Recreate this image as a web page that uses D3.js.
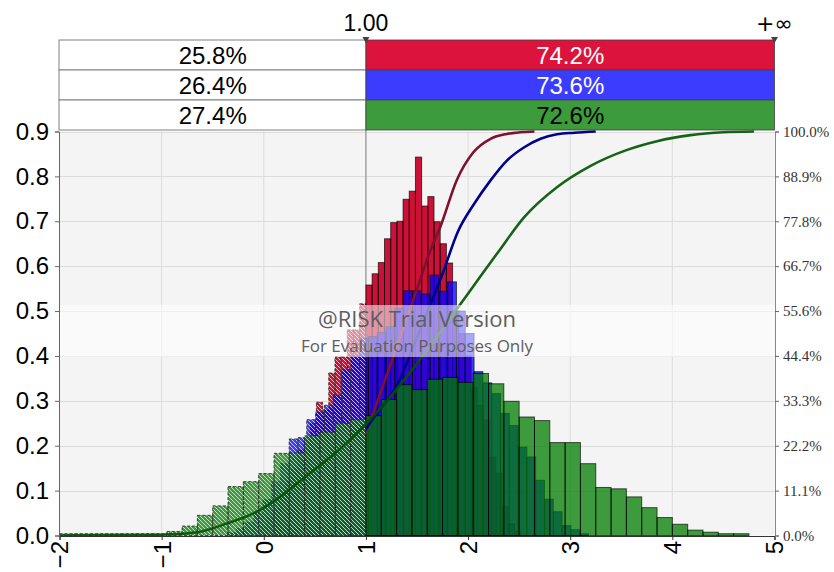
<!DOCTYPE html>
<html><head><meta charset="utf-8">
<script src="https://cdn.jsdelivr.net/npm/d3@7"></script>
<style>body{margin:0;background:#fff}svg{display:block}</style>
</head><body>
<svg id="c" width="834" height="572"></svg>
<script>
// ---------------- data ----------------
const delimiter = 1.0;
const delimiterLabel = "1.00";
const upperLabel = "+∞";
const xTicks = [-2, -1, 0, 1, 2, 3, 4, 5];
const yTicks = [0, 0.1, 0.2, 0.3, 0.4, 0.5, 0.6, 0.7, 0.8, 0.9];
const rightTickLabels = ["0.0%", "11.1%", "22.2%", "33.3%", "44.4%", "55.6%", "66.7%", "77.8%", "88.9%", "100.0%"];
const seriesNames = ["red", "blue", "green"];
const leftPct = ["25.8%", "26.4%", "27.4%"];
const rightPct = ["74.2%", "73.6%", "72.6%"];

// histogram bins: start, width, heights
const redStart = -0.0302, redWidth = 0.0606;
const redValues = [0.02, 0.04, 0.06, 0.09, 0.12, 0.15, 0.19, 0.21, 0.25,
  0.297, 0.28, 0.362, 0.398, 0.398, 0.458, 0.458, 0.516,
  0.558, 0.583, 0.608, 0.661, 0.697, 0.70, 0.749, 0.767, 0.843, 0.734, 0.755, 0.699, 0.65, 0.607,
  0.50, 0.45, 0.40, 0.33, 0.29, 0.257, 0.175, 0.139, 0.065, 0.026, 0.01];

const blueStart = -0.355, blueWidth = 0.0862;
const blueValues = [0.006, 0.015, 0.03, 0.05, 0.08, 0.12, 0.16,
  0.215, 0.218, 0.258, 0.275, 0.29, 0.313, 0.37, 0.40,
  0.44,
  0.443, 0.452, 0.465, 0.506, 0.545, 0.545, 0.538, 0.58, 0.544, 0.565, 0.50, 0.45, 0.365,
  0.34, 0.316, 0.272, 0.245, 0.197, 0.175, 0.123, 0.081, 0.053, 0.022, 0.013, 0.004];

const greenStart = -2.0, greenWidth = 0.15;
const greenValues = [0.004, 0.004, 0.004, 0.004, 0.004, 0.004, 0.004,
  0.009, 0.021, 0.045, 0.066, 0.109, 0.120, 0.138, 0.183, 0.184, 0.222, 0.230, 0.249, 0.258,
  0.267, 0.303, 0.336, 0.325, 0.348, 0.352, 0.341, 0.361, 0.338, 0.299, 0.264, 0.256, 0.207, 0.207,
  0.160, 0.107, 0.104, 0.086, 0.062, 0.040, 0.025, 0.012, 0.0074, 0.004, 0.004];

// cumulative curves [x, probability]
const redCdf = [[-0.1, 0], [0.1, 0.008], [0.3, 0.03], [0.5, 0.066], [0.7, 0.125], [0.85, 0.18], [1.0, 0.258],
  [1.25, 0.43], [1.5, 0.61], [1.63, 0.705], [1.73, 0.765], [1.89, 0.88], [2.05, 0.948], [2.22, 0.982],
  [2.38, 0.994], [2.51, 0.998], [2.65, 1.0]];
const blueCdf = [[-0.3, 0], [0.0, 0.01], [0.2, 0.03], [0.4, 0.075], [0.6, 0.125], [0.8, 0.19], [1.0, 0.264],
  [1.1, 0.30], [1.3, 0.37], [1.5, 0.49], [1.62, 0.565], [1.75, 0.648], [1.9, 0.752], [2.06, 0.821],
  [2.22, 0.879], [2.38, 0.928], [2.55, 0.961], [2.71, 0.982], [2.87, 0.993], [3.04, 0.997], [3.25, 1.0]];
const greenCdf = [[-2.0, 0], [-1.0, 0.002], [-0.95, 0.0025], [-0.65, 0.008], [-0.36, 0.03], [-0.06, 0.06],
  [0.1, 0.085], [0.43, 0.15], [0.75, 0.215], [1.0, 0.276], [1.29, 0.359], [1.62, 0.466], [1.94, 0.578],
  [2.29, 0.70], [2.55, 0.788], [2.87, 0.862], [3.2, 0.915], [3.53, 0.952], [3.85, 0.976], [4.18, 0.991],
  [4.5, 0.998], [4.8, 1.0]];

const watermark1 = "@RISK Trial Version";
const watermark2 = "For Evaluation Purposes Only";

// ---------------- styles ----------------
const bandColors = ["#dc143c", "#3c3cff", "#3c9c3c"];
const bandText = ["#ffffff", "#ffffff", "#000000"];
const barFill = ["#cc1037", "#0000ff", "#007c00"];
const barOpacity = [1, 0.75, 0.75];
const lineColors = ["#7f1030", "#00008c", "#005200"];
const lineFromDelimiter = [true, true, false];

const svg = d3.select("#c");
const L = 59.5, R = 774.5, T = 131.5, B = 535.5;
const x = d3.scaleLinear().domain([-2, 5]).range([L, R]);
const y = d3.scaleLinear().domain([0, 0.9]).range([B, T]);
const yP = d3.scaleLinear().domain([0, 1]).range([B, T]);

const defs = svg.append("defs");
const pat = defs.append("pattern").attr("id", "hatch").attr("patternUnits", "userSpaceOnUse")
  .attr("width", 4).attr("height", 4);
pat.append("path").attr("d", "M-1,-1L5,5M-1,3L1,5M3,-1L5,1")
  .attr("stroke", "#fff").attr("stroke-width", 1).attr("stroke-opacity", 0.7);
defs.append("clipPath").attr("id", "rightOfDelim").append("rect")
  .attr("x", x(delimiter)).attr("y", 0).attr("width", R - x(delimiter)).attr("height", 572);

// plot background
svg.append("rect").attr("x", L).attr("y", T).attr("width", R - L).attr("height", B - T).attr("fill", "#f4f4f4");

// grid
svg.append("g").selectAll("line").data(yTicks.slice(1)).join("line")
  .attr("x1", L).attr("x2", R).attr("y1", d => Math.round(y(d)) + 0.5).attr("y2", d => Math.round(y(d)) + 0.5)
  .attr("stroke", "#dcdcdc");
svg.append("g").selectAll("line").data(xTicks.filter(d => d > -2 && d < 5 && d !== delimiter)).join("line")
  .attr("x1", d => x(d)).attr("x2", d => x(d)).attr("y1", T).attr("y2", B)
  .attr("stroke", "#dcdcdc");

// delimiter line
svg.append("line").attr("x1", x(delimiter)).attr("x2", x(delimiter)).attr("y1", 40).attr("y2", B)
  .attr("stroke", "#7a7a7a").attr("stroke-width", 1);

// bars
function bins(start, width, values) {
  const out = [];
  values.forEach((v, i) => {
    const a = start + i * width, b = a + width;
    if (b <= delimiter) out.push({a, b, v, h: true});
    else if (a >= delimiter) out.push({a, b, v, h: false});
    else { out.push({a, b: delimiter, v, h: true}); out.push({a: delimiter, b, v, h: false}); }
  });
  return out;
}
const allSeries = [
  bins(redStart, redWidth, redValues),
  bins(blueStart, blueWidth, blueValues),
  bins(greenStart, greenWidth, greenValues)
];
allSeries.forEach((data, si) => {
  const g = svg.append("g");
  g.selectAll("rect.f").data(data).join("rect").attr("class", "f")
    .attr("x", d => x(d.a)).attr("width", d => x(d.b) - x(d.a))
    .attr("y", d => y(d.v)).attr("height", d => B - y(d.v))
    .attr("fill", barFill[si]).attr("fill-opacity", barOpacity[si]);
  g.selectAll("rect.p").data(data.filter(d => d.h)).join("rect").attr("class", "p")
    .attr("x", d => x(d.a)).attr("width", d => x(d.b) - x(d.a))
    .attr("y", d => y(d.v)).attr("height", d => B - y(d.v))
    .attr("fill", "url(#hatch)");
  g.selectAll("rect.o").data(data).join("rect").attr("class", "o")
    .attr("x", d => x(d.a)).attr("width", d => x(d.b) - x(d.a))
    .attr("y", d => y(d.v)).attr("height", d => B - y(d.v))
    .attr("fill", "none").attr("stroke", d => d.h ? "#2a2a2a" : "#000")
    .attr("stroke-opacity", d => d.h ? 0.85 : 0.65).attr("stroke-width", 1)
    .attr("stroke-dasharray", d => d.h ? "3,2" : null);
});

// cumulative lines
const line = d3.line().x(d => x(d[0])).y(d => yP(d[1])).curve(d3.curveMonotoneX);
[redCdf, blueCdf, greenCdf].forEach((c, i) => {
  const p = svg.append("path").datum(c).attr("d", line).attr("fill", "none")
    .attr("stroke", lineColors[i]).attr("stroke-width", 2.6).attr("stroke-linejoin", "round");
  if (lineFromDelimiter[i]) p.attr("clip-path", "url(#rightOfDelim)");
  else p.attr("stroke-opacity", 0.9);
});

// watermark
svg.append("rect").attr("x", L).attr("y", 305).attr("width", R - L).attr("height", 52)
  .attr("fill", "#ffffff").attr("fill-opacity", 0.55);
svg.append("text").attr("x", 417).attr("y", 327).attr("text-anchor", "middle")
  .attr("font-family", "Open Sans, sans-serif").attr("font-size", 22).attr("fill", "#5e5e5e").text(watermark1);
svg.append("text").attr("x", 417).attr("y", 352).attr("text-anchor", "middle")
  .attr("font-family", "Open Sans, sans-serif").attr("font-size", 17).attr("fill", "#5e5e5e").text(watermark2);

// axes
const axFont = "Liberation Sans, Arial, sans-serif";
const gl = svg.append("g").attr("transform", `translate(${L - 0.5},0)`)
  .call(d3.axisLeft(y).tickValues(yTicks).tickFormat(d3.format(".1f")).tickSize(4).tickPadding(6));
gl.selectAll("text").attr("font-family", axFont).attr("font-size", 24).attr("fill", "#000");
gl.select(".domain").attr("stroke", "#666");
gl.selectAll(".tick line").attr("stroke", "#666");

const gb = svg.append("g").attr("transform", `translate(0,${B + 0.5})`)
  .call(d3.axisBottom(x).tickValues(xTicks).tickFormat(d3.format("d")).tickSize(4));
gb.select(".domain").attr("stroke", "#333");
gb.selectAll(".tick line").attr("stroke", "#333");
gb.selectAll("text").attr("font-family", axFont).attr("font-size", 24).attr("fill", "#000")
  .attr("transform", "translate(0,5) rotate(-90)").attr("text-anchor", "end")
  .attr("x", 0).attr("y", 0).attr("dy", "0.35em");

const gr = svg.append("g").attr("transform", `translate(${R + 0.5},0)`)
  .call(d3.axisRight(yP).tickValues(d3.range(10).map(i => i / 9)).tickFormat((d, i) => rightTickLabels[i]).tickSize(4).tickPadding(4));
gr.select(".domain").attr("stroke", "#888");
gr.selectAll(".tick line").attr("stroke", "#666");
gr.selectAll("text").attr("font-family", "Liberation Serif, Times New Roman, serif").attr("font-size", 15).attr("fill", "#333");

// top band
const band = svg.append("g");
seriesNames.forEach((s, i) => {
  const yy = 40 + i * 30;
  band.append("rect").attr("x", L - 0.5).attr("y", yy).attr("width", x(delimiter) - L + 0.5).attr("height", 30)
    .attr("fill", "#fff").attr("stroke", "#808080");
  band.append("rect").attr("x", x(delimiter)).attr("y", yy).attr("width", R - x(delimiter)).attr("height", 30)
    .attr("fill", bandColors[i]).attr("stroke", "#404040").attr("stroke-opacity", 0.8);
  band.append("text").attr("x", (L + x(delimiter)) / 2).attr("y", yy + 24).attr("text-anchor", "middle")
    .attr("font-family", axFont).attr("font-size", 24).attr("fill", "#000").text(leftPct[i]);
  band.append("text").attr("x", (x(delimiter) + R) / 2).attr("y", yy + 24).attr("text-anchor", "middle")
    .attr("font-family", axFont).attr("font-size", 24).attr("fill", bandText[i]).text(rightPct[i]);
});
band.append("text").attr("x", x(delimiter)).attr("y", 31).attr("text-anchor", "middle")
  .attr("font-family", axFont).attr("font-size", 23).attr("fill", "#000").text(delimiterLabel);
band.append("text").attr("x", R).attr("y", 31).attr("text-anchor", "middle")
  .attr("font-family", "DejaVu Sans, sans-serif").attr("font-size", 22).attr("fill", "#000").text(upperLabel);
[x(delimiter), R].forEach(px => {
  band.append("path").attr("d", `M${px - 3.5},37L${px + 3.5},37L${px},43Z`).attr("fill", "#404040");
});
</script>
</body></html>
